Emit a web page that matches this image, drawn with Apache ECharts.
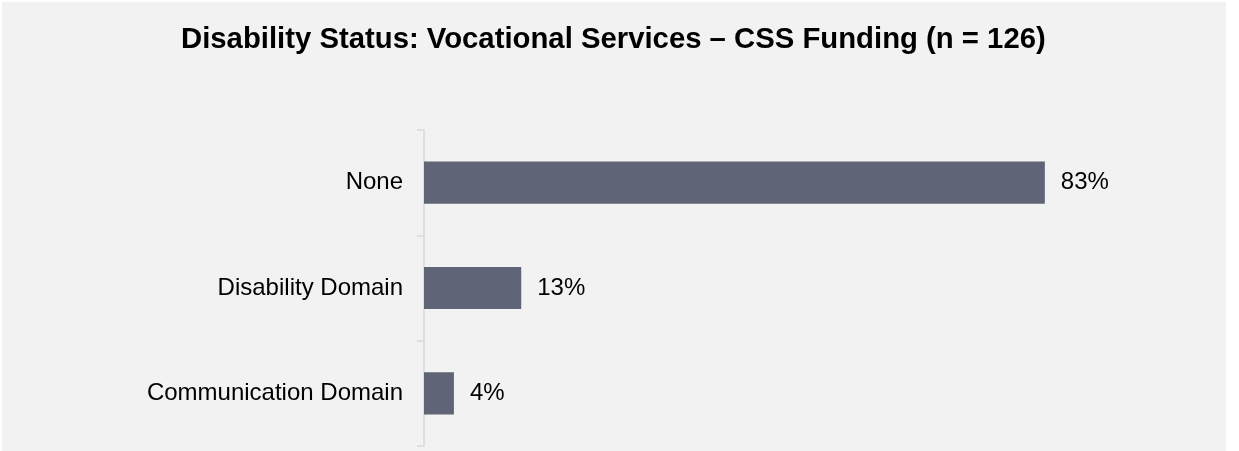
<!DOCTYPE html>
<html>
<head>
<meta charset="utf-8">
<script src="https://cdn.jsdelivr.net/npm/echarts@6/dist/echarts.min.js"></script>
<style>
  html, body { margin: 0; padding: 0; background: #ffffff; }
  #chart { width: 1239px; height: 451px; }
</style>
</head>
<body>
<div id="chart"></div>
<script>
// Disability status shares (percent of 126 participants)
const categories = ['None', 'Disability Domain', 'Communication Domain'];
const shares = [83, 13, 4];
const titleText = 'Disability Status: Vocational Services \u2013 CSS Funding (n = 126)';

const chart = echarts.init(document.getElementById('chart'), null, { renderer: 'canvas' });

chart.setOption({
  backgroundColor: '#ffffff',
  animation: false,
  textStyle: { fontFamily: '"Liberation Sans", Arial, sans-serif' },
  graphic: [{
    type: 'rect',
    z: -10,
    silent: true,
    shape: { x: 2, y: 2, width: 1224, height: 449 },
    style: { fill: '#f2f2f2' }
  }],
  title: {
    text: titleText,
    left: 181,
    top: 25,
    padding: 0,
    textStyle: {
      fontFamily: '"Liberation Sans", Arial, sans-serif',
      fontSize: 29.3,
      fontWeight: 'bold',
      color: '#000000'
    }
  },
  grid: { left: 424, right: 67, top: 130, bottom: 5, containLabel: false },
  xAxis: {
    type: 'value',
    min: 0,
    max: 100,
    show: false
  },
  yAxis: {
    type: 'category',
    data: categories,
    inverse: true,
    axisLine: { show: true, lineStyle: { color: '#d9d9d9', width: 1.5 } },
    axisTick: { show: true, length: 7, lineStyle: { color: '#d9d9d9', width: 1.5 } },
    axisLabel: {
      margin: 21,
      fontSize: 24,
      color: '#000000',
      fontFamily: '"Liberation Sans", Arial, sans-serif'
    },
    splitLine: { show: false }
  },
  series: [{
    type: 'bar',
    data: shares,
    barWidth: '40%',
    itemStyle: { color: '#5f6577' },
    label: {
      show: true,
      position: 'right',
      distance: 16,
      formatter: p => p.value + '%',
      fontSize: 24,
      color: '#000000',
      fontFamily: '"Liberation Sans", Arial, sans-serif'
    }
  }]
});
</script>
</body>
</html>
